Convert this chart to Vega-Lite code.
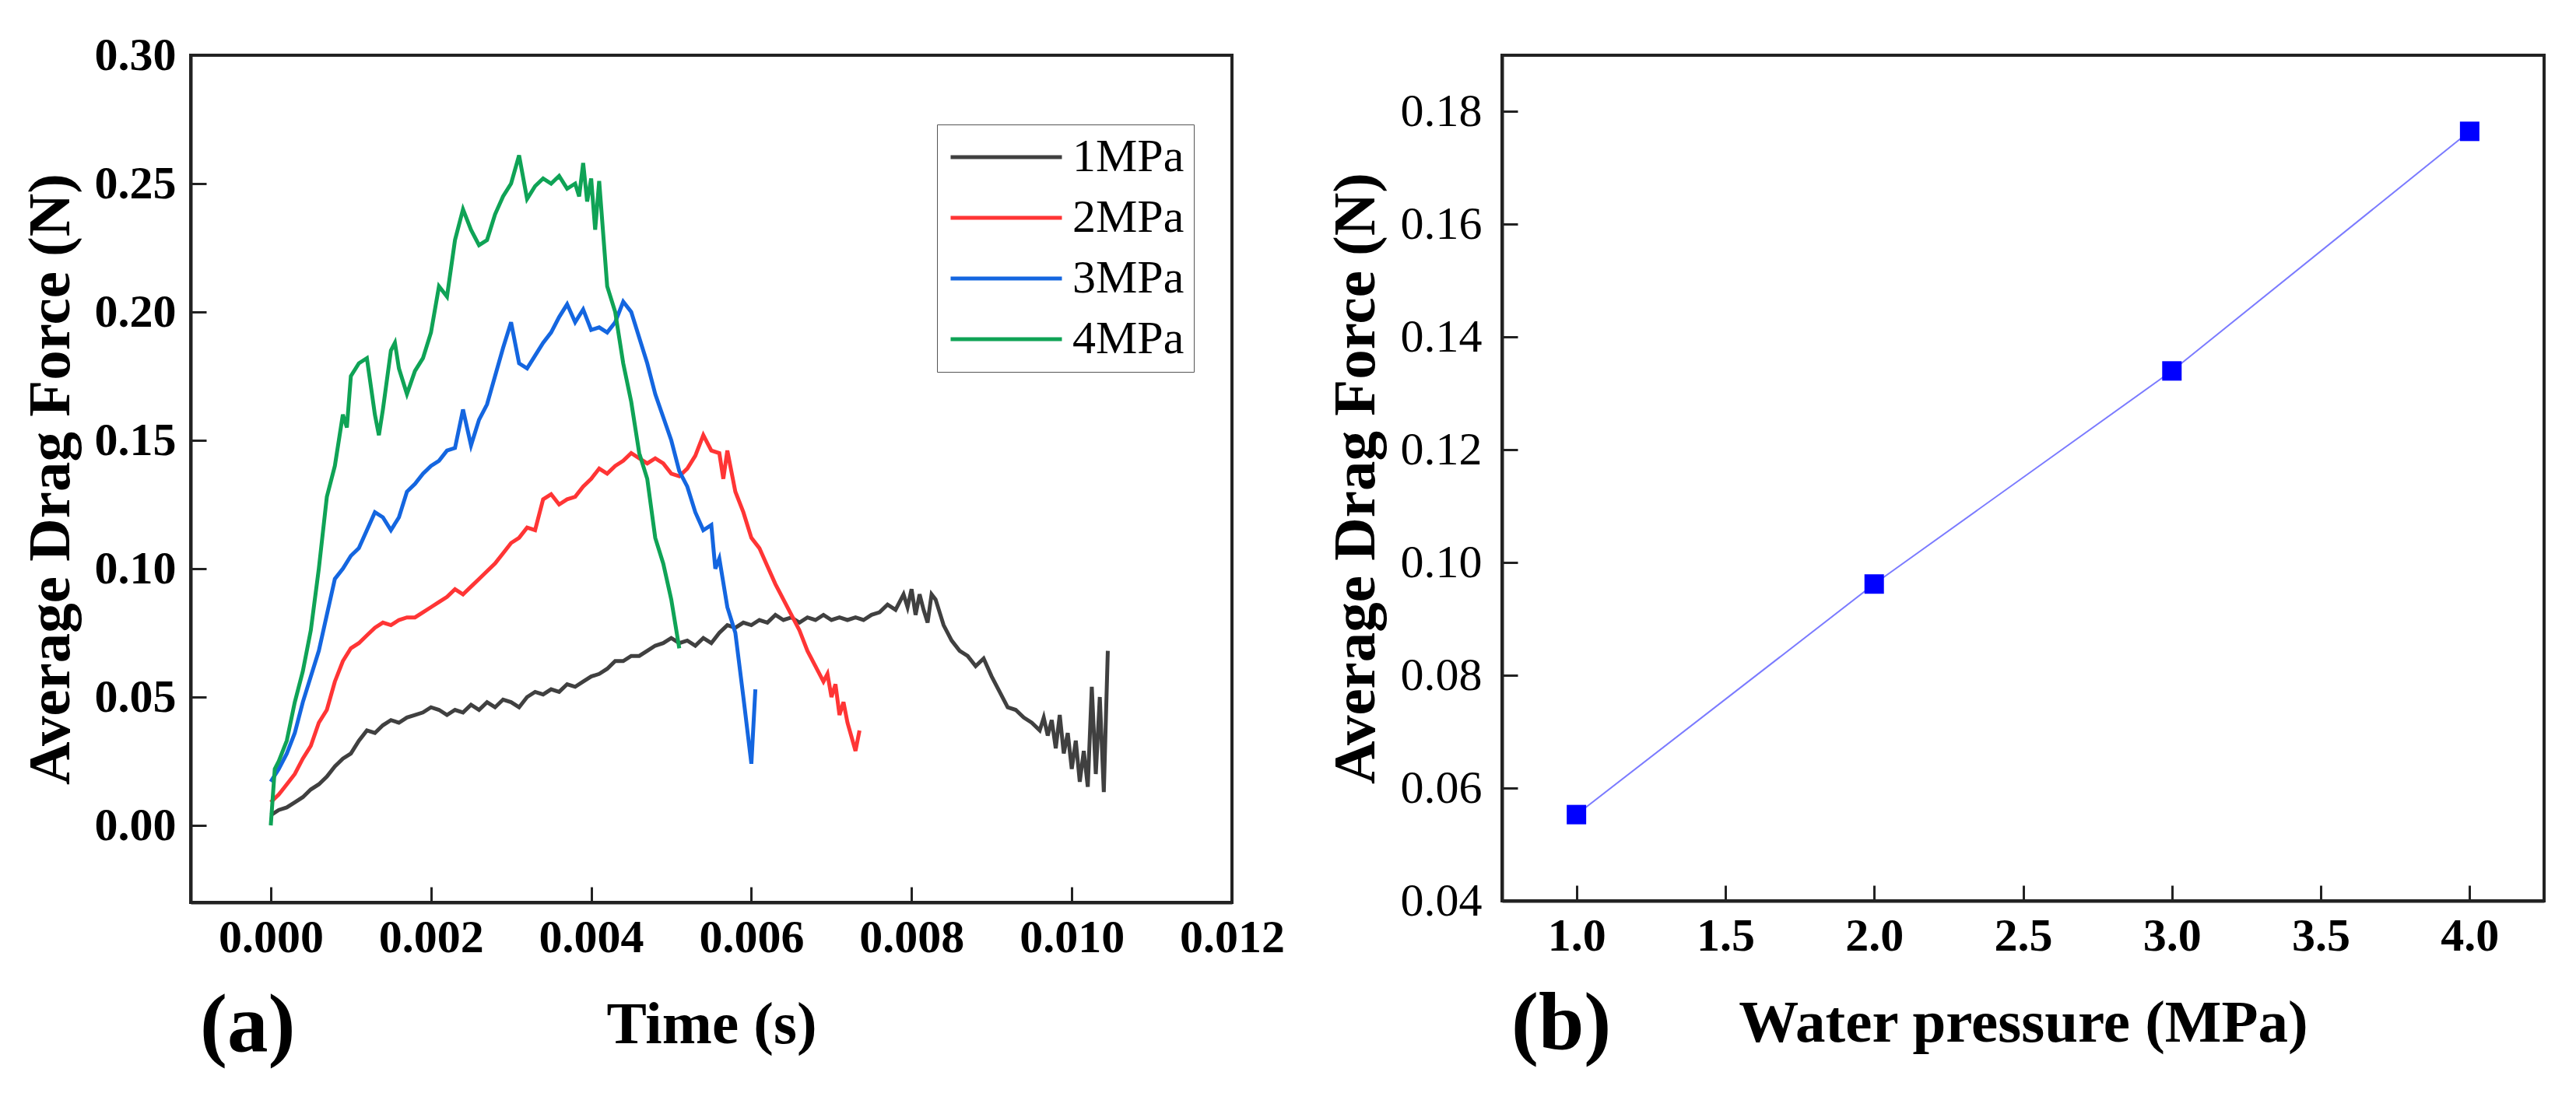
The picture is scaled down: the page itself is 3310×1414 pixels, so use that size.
{
  "$schema": "https://vega.github.io/schema/vega-lite/v6.json",
  "background": "white",
  "padding": {"left": 24, "top": 39, "right": 0, "bottom": 0},
  "spacing": 48,
  "config": {
    "font": "Liberation Serif",
    "view": {"stroke": "#222222", "strokeWidth": 4},
    "axis": {
      "grid": false,
      "domainColor": "#222222",
      "domainWidth": 4,
      "tickColor": "#222222",
      "tickWidth": 3,
      "tickSize": -20,
      "labelFont": "Liberation Serif",
      "labelFontSize": 60,
      "labelColor": "#000000",
      "labelFlush": false,
      "labelOverlap": false,
      "labelBound": false,
      "titleFont": "Liberation Serif",
      "titleFontSize": 77,
      "titleFontWeight": "bold",
      "titleColor": "#000000"
    }
  },
  "hconcat": [
    {
      "width": 1338,
      "height": 1089,
      "title": {
        "text": "(a)",
        "orient": "bottom",
        "anchor": "start",
        "frame": "group",
        "font": "Liberation Serif",
        "fontSize": 105,
        "fontWeight": "bold",
        "color": "#000000",
        "offset": -87,
        "dx": 12
      },
      "data": {
        "values": [
          {"t": 0.0, "f": 0.004, "p": "1MPa"},
          {"t": 0.0001, "f": 0.006, "p": "1MPa"},
          {"t": 0.0002, "f": 0.007, "p": "1MPa"},
          {"t": 0.0003, "f": 0.009, "p": "1MPa"},
          {"t": 0.0004, "f": 0.011, "p": "1MPa"},
          {"t": 0.0005, "f": 0.014, "p": "1MPa"},
          {"t": 0.0006, "f": 0.016, "p": "1MPa"},
          {"t": 0.0007, "f": 0.019, "p": "1MPa"},
          {"t": 0.0008, "f": 0.023, "p": "1MPa"},
          {"t": 0.0009, "f": 0.026, "p": "1MPa"},
          {"t": 0.001, "f": 0.028, "p": "1MPa"},
          {"t": 0.0011, "f": 0.033, "p": "1MPa"},
          {"t": 0.0012, "f": 0.037, "p": "1MPa"},
          {"t": 0.0013, "f": 0.036, "p": "1MPa"},
          {"t": 0.0014, "f": 0.039, "p": "1MPa"},
          {"t": 0.0015, "f": 0.041, "p": "1MPa"},
          {"t": 0.0016, "f": 0.04, "p": "1MPa"},
          {"t": 0.0017, "f": 0.042, "p": "1MPa"},
          {"t": 0.0018, "f": 0.043, "p": "1MPa"},
          {"t": 0.0019, "f": 0.044, "p": "1MPa"},
          {"t": 0.002, "f": 0.046, "p": "1MPa"},
          {"t": 0.0021, "f": 0.045, "p": "1MPa"},
          {"t": 0.0022, "f": 0.043, "p": "1MPa"},
          {"t": 0.0023, "f": 0.045, "p": "1MPa"},
          {"t": 0.0024, "f": 0.044, "p": "1MPa"},
          {"t": 0.0025, "f": 0.047, "p": "1MPa"},
          {"t": 0.0026, "f": 0.045, "p": "1MPa"},
          {"t": 0.0027, "f": 0.048, "p": "1MPa"},
          {"t": 0.0028, "f": 0.046, "p": "1MPa"},
          {"t": 0.0029, "f": 0.049, "p": "1MPa"},
          {"t": 0.003, "f": 0.048, "p": "1MPa"},
          {"t": 0.0031, "f": 0.046, "p": "1MPa"},
          {"t": 0.0032, "f": 0.05, "p": "1MPa"},
          {"t": 0.0033, "f": 0.052, "p": "1MPa"},
          {"t": 0.0034, "f": 0.051, "p": "1MPa"},
          {"t": 0.0035, "f": 0.053, "p": "1MPa"},
          {"t": 0.0036, "f": 0.052, "p": "1MPa"},
          {"t": 0.0037, "f": 0.055, "p": "1MPa"},
          {"t": 0.0038, "f": 0.054, "p": "1MPa"},
          {"t": 0.0039, "f": 0.056, "p": "1MPa"},
          {"t": 0.004, "f": 0.058, "p": "1MPa"},
          {"t": 0.0041, "f": 0.059, "p": "1MPa"},
          {"t": 0.0042, "f": 0.061, "p": "1MPa"},
          {"t": 0.0043, "f": 0.064, "p": "1MPa"},
          {"t": 0.0044, "f": 0.064, "p": "1MPa"},
          {"t": 0.0045, "f": 0.066, "p": "1MPa"},
          {"t": 0.0046, "f": 0.066, "p": "1MPa"},
          {"t": 0.0047, "f": 0.068, "p": "1MPa"},
          {"t": 0.0048, "f": 0.07, "p": "1MPa"},
          {"t": 0.0049, "f": 0.071, "p": "1MPa"},
          {"t": 0.005, "f": 0.073, "p": "1MPa"},
          {"t": 0.0051, "f": 0.071, "p": "1MPa"},
          {"t": 0.0052, "f": 0.072, "p": "1MPa"},
          {"t": 0.0053, "f": 0.07, "p": "1MPa"},
          {"t": 0.0054, "f": 0.073, "p": "1MPa"},
          {"t": 0.0055, "f": 0.071, "p": "1MPa"},
          {"t": 0.0056, "f": 0.075, "p": "1MPa"},
          {"t": 0.0057, "f": 0.078, "p": "1MPa"},
          {"t": 0.0058, "f": 0.077, "p": "1MPa"},
          {"t": 0.0059, "f": 0.079, "p": "1MPa"},
          {"t": 0.006, "f": 0.078, "p": "1MPa"},
          {"t": 0.0061, "f": 0.08, "p": "1MPa"},
          {"t": 0.0062, "f": 0.079, "p": "1MPa"},
          {"t": 0.0063, "f": 0.082, "p": "1MPa"},
          {"t": 0.0064, "f": 0.08, "p": "1MPa"},
          {"t": 0.0065, "f": 0.081, "p": "1MPa"},
          {"t": 0.0066, "f": 0.079, "p": "1MPa"},
          {"t": 0.0067, "f": 0.081, "p": "1MPa"},
          {"t": 0.0068, "f": 0.08, "p": "1MPa"},
          {"t": 0.0069, "f": 0.082, "p": "1MPa"},
          {"t": 0.007, "f": 0.08, "p": "1MPa"},
          {"t": 0.0071, "f": 0.081, "p": "1MPa"},
          {"t": 0.0072, "f": 0.08, "p": "1MPa"},
          {"t": 0.0073, "f": 0.081, "p": "1MPa"},
          {"t": 0.0074, "f": 0.08, "p": "1MPa"},
          {"t": 0.0075, "f": 0.082, "p": "1MPa"},
          {"t": 0.0076, "f": 0.083, "p": "1MPa"},
          {"t": 0.0077, "f": 0.086, "p": "1MPa"},
          {"t": 0.0078, "f": 0.084, "p": "1MPa"},
          {"t": 0.0079, "f": 0.09, "p": "1MPa"},
          {"t": 0.00795, "f": 0.085, "p": "1MPa"},
          {"t": 0.008, "f": 0.092, "p": "1MPa"},
          {"t": 0.00805, "f": 0.082, "p": "1MPa"},
          {"t": 0.0081, "f": 0.09, "p": "1MPa"},
          {"t": 0.00815, "f": 0.084, "p": "1MPa"},
          {"t": 0.0082, "f": 0.079, "p": "1MPa"},
          {"t": 0.00825, "f": 0.09, "p": "1MPa"},
          {"t": 0.0083, "f": 0.088, "p": "1MPa"},
          {"t": 0.0084, "f": 0.078, "p": "1MPa"},
          {"t": 0.0085, "f": 0.072, "p": "1MPa"},
          {"t": 0.0086, "f": 0.068, "p": "1MPa"},
          {"t": 0.0087, "f": 0.066, "p": "1MPa"},
          {"t": 0.0088, "f": 0.062, "p": "1MPa"},
          {"t": 0.0089, "f": 0.065, "p": "1MPa"},
          {"t": 0.009, "f": 0.058, "p": "1MPa"},
          {"t": 0.0091, "f": 0.052, "p": "1MPa"},
          {"t": 0.0092, "f": 0.046, "p": "1MPa"},
          {"t": 0.0093, "f": 0.045, "p": "1MPa"},
          {"t": 0.0094, "f": 0.042, "p": "1MPa"},
          {"t": 0.0095, "f": 0.04, "p": "1MPa"},
          {"t": 0.0096, "f": 0.037, "p": "1MPa"},
          {"t": 0.00965, "f": 0.042, "p": "1MPa"},
          {"t": 0.0097, "f": 0.035, "p": "1MPa"},
          {"t": 0.00975, "f": 0.041, "p": "1MPa"},
          {"t": 0.0098, "f": 0.03, "p": "1MPa"},
          {"t": 0.00985, "f": 0.043, "p": "1MPa"},
          {"t": 0.0099, "f": 0.028, "p": "1MPa"},
          {"t": 0.00995, "f": 0.036, "p": "1MPa"},
          {"t": 0.01, "f": 0.022, "p": "1MPa"},
          {"t": 0.01005, "f": 0.033, "p": "1MPa"},
          {"t": 0.0101, "f": 0.017, "p": "1MPa"},
          {"t": 0.01015, "f": 0.029, "p": "1MPa"},
          {"t": 0.0102, "f": 0.015, "p": "1MPa"},
          {"t": 0.01025, "f": 0.054, "p": "1MPa"},
          {"t": 0.0103, "f": 0.02, "p": "1MPa"},
          {"t": 0.01035, "f": 0.05, "p": "1MPa"},
          {"t": 0.0104, "f": 0.013, "p": "1MPa"},
          {"t": 0.01045, "f": 0.068, "p": "1MPa"},

          {"t": 0.0, "f": 0.009, "p": "2MPa"},
          {"t": 0.0001, "f": 0.012, "p": "2MPa"},
          {"t": 0.0002, "f": 0.016, "p": "2MPa"},
          {"t": 0.0003, "f": 0.02, "p": "2MPa"},
          {"t": 0.0004, "f": 0.026, "p": "2MPa"},
          {"t": 0.0005, "f": 0.031, "p": "2MPa"},
          {"t": 0.0006, "f": 0.04, "p": "2MPa"},
          {"t": 0.0007, "f": 0.045, "p": "2MPa"},
          {"t": 0.0008, "f": 0.056, "p": "2MPa"},
          {"t": 0.0009, "f": 0.064, "p": "2MPa"},
          {"t": 0.001, "f": 0.069, "p": "2MPa"},
          {"t": 0.0011, "f": 0.071, "p": "2MPa"},
          {"t": 0.0012, "f": 0.074, "p": "2MPa"},
          {"t": 0.0013, "f": 0.077, "p": "2MPa"},
          {"t": 0.0014, "f": 0.079, "p": "2MPa"},
          {"t": 0.0015, "f": 0.078, "p": "2MPa"},
          {"t": 0.0016, "f": 0.08, "p": "2MPa"},
          {"t": 0.0017, "f": 0.081, "p": "2MPa"},
          {"t": 0.0018, "f": 0.081, "p": "2MPa"},
          {"t": 0.0019, "f": 0.083, "p": "2MPa"},
          {"t": 0.002, "f": 0.085, "p": "2MPa"},
          {"t": 0.0021, "f": 0.087, "p": "2MPa"},
          {"t": 0.0022, "f": 0.089, "p": "2MPa"},
          {"t": 0.0023, "f": 0.092, "p": "2MPa"},
          {"t": 0.0024, "f": 0.09, "p": "2MPa"},
          {"t": 0.0025, "f": 0.093, "p": "2MPa"},
          {"t": 0.0026, "f": 0.096, "p": "2MPa"},
          {"t": 0.0027, "f": 0.099, "p": "2MPa"},
          {"t": 0.0028, "f": 0.102, "p": "2MPa"},
          {"t": 0.0029, "f": 0.106, "p": "2MPa"},
          {"t": 0.003, "f": 0.11, "p": "2MPa"},
          {"t": 0.0031, "f": 0.112, "p": "2MPa"},
          {"t": 0.0032, "f": 0.116, "p": "2MPa"},
          {"t": 0.0033, "f": 0.115, "p": "2MPa"},
          {"t": 0.0034, "f": 0.127, "p": "2MPa"},
          {"t": 0.0035, "f": 0.129, "p": "2MPa"},
          {"t": 0.0036, "f": 0.125, "p": "2MPa"},
          {"t": 0.0037, "f": 0.127, "p": "2MPa"},
          {"t": 0.0038, "f": 0.128, "p": "2MPa"},
          {"t": 0.0039, "f": 0.132, "p": "2MPa"},
          {"t": 0.004, "f": 0.135, "p": "2MPa"},
          {"t": 0.0041, "f": 0.139, "p": "2MPa"},
          {"t": 0.0042, "f": 0.137, "p": "2MPa"},
          {"t": 0.0043, "f": 0.14, "p": "2MPa"},
          {"t": 0.0044, "f": 0.142, "p": "2MPa"},
          {"t": 0.0045, "f": 0.145, "p": "2MPa"},
          {"t": 0.0046, "f": 0.143, "p": "2MPa"},
          {"t": 0.0047, "f": 0.141, "p": "2MPa"},
          {"t": 0.0048, "f": 0.143, "p": "2MPa"},
          {"t": 0.0049, "f": 0.141, "p": "2MPa"},
          {"t": 0.005, "f": 0.137, "p": "2MPa"},
          {"t": 0.0051, "f": 0.136, "p": "2MPa"},
          {"t": 0.0052, "f": 0.139, "p": "2MPa"},
          {"t": 0.0053, "f": 0.144, "p": "2MPa"},
          {"t": 0.0054, "f": 0.152, "p": "2MPa"},
          {"t": 0.0055, "f": 0.146, "p": "2MPa"},
          {"t": 0.0056, "f": 0.145, "p": "2MPa"},
          {"t": 0.00565, "f": 0.135, "p": "2MPa"},
          {"t": 0.0057, "f": 0.146, "p": "2MPa"},
          {"t": 0.0058, "f": 0.13, "p": "2MPa"},
          {"t": 0.0059, "f": 0.122, "p": "2MPa"},
          {"t": 0.006, "f": 0.112, "p": "2MPa"},
          {"t": 0.0061, "f": 0.108, "p": "2MPa"},
          {"t": 0.0062, "f": 0.101, "p": "2MPa"},
          {"t": 0.0063, "f": 0.094, "p": "2MPa"},
          {"t": 0.0064, "f": 0.088, "p": "2MPa"},
          {"t": 0.0065, "f": 0.082, "p": "2MPa"},
          {"t": 0.0066, "f": 0.076, "p": "2MPa"},
          {"t": 0.0067, "f": 0.068, "p": "2MPa"},
          {"t": 0.0068, "f": 0.062, "p": "2MPa"},
          {"t": 0.0069, "f": 0.056, "p": "2MPa"},
          {"t": 0.00695, "f": 0.059, "p": "2MPa"},
          {"t": 0.007, "f": 0.05, "p": "2MPa"},
          {"t": 0.00705, "f": 0.055, "p": "2MPa"},
          {"t": 0.0071, "f": 0.043, "p": "2MPa"},
          {"t": 0.00715, "f": 0.048, "p": "2MPa"},
          {"t": 0.0072, "f": 0.04, "p": "2MPa"},
          {"t": 0.0073, "f": 0.029, "p": "2MPa"},
          {"t": 0.00735, "f": 0.037, "p": "2MPa"},

          {"t": 0.0, "f": 0.017, "p": "3MPa"},
          {"t": 0.0001, "f": 0.022, "p": "3MPa"},
          {"t": 0.0002, "f": 0.028, "p": "3MPa"},
          {"t": 0.0003, "f": 0.036, "p": "3MPa"},
          {"t": 0.0004, "f": 0.048, "p": "3MPa"},
          {"t": 0.0005, "f": 0.058, "p": "3MPa"},
          {"t": 0.0006, "f": 0.068, "p": "3MPa"},
          {"t": 0.0007, "f": 0.082, "p": "3MPa"},
          {"t": 0.0008, "f": 0.096, "p": "3MPa"},
          {"t": 0.0009, "f": 0.1, "p": "3MPa"},
          {"t": 0.001, "f": 0.105, "p": "3MPa"},
          {"t": 0.0011, "f": 0.108, "p": "3MPa"},
          {"t": 0.0012, "f": 0.115, "p": "3MPa"},
          {"t": 0.0013, "f": 0.122, "p": "3MPa"},
          {"t": 0.0014, "f": 0.12, "p": "3MPa"},
          {"t": 0.0015, "f": 0.115, "p": "3MPa"},
          {"t": 0.0016, "f": 0.12, "p": "3MPa"},
          {"t": 0.0017, "f": 0.13, "p": "3MPa"},
          {"t": 0.0018, "f": 0.133, "p": "3MPa"},
          {"t": 0.0019, "f": 0.137, "p": "3MPa"},
          {"t": 0.002, "f": 0.14, "p": "3MPa"},
          {"t": 0.0021, "f": 0.142, "p": "3MPa"},
          {"t": 0.0022, "f": 0.146, "p": "3MPa"},
          {"t": 0.0023, "f": 0.147, "p": "3MPa"},
          {"t": 0.0024, "f": 0.162, "p": "3MPa"},
          {"t": 0.0025, "f": 0.148, "p": "3MPa"},
          {"t": 0.0026, "f": 0.158, "p": "3MPa"},
          {"t": 0.0027, "f": 0.164, "p": "3MPa"},
          {"t": 0.0028, "f": 0.175, "p": "3MPa"},
          {"t": 0.0029, "f": 0.186, "p": "3MPa"},
          {"t": 0.003, "f": 0.196, "p": "3MPa"},
          {"t": 0.0031, "f": 0.18, "p": "3MPa"},
          {"t": 0.0032, "f": 0.178, "p": "3MPa"},
          {"t": 0.0033, "f": 0.183, "p": "3MPa"},
          {"t": 0.0034, "f": 0.188, "p": "3MPa"},
          {"t": 0.0035, "f": 0.192, "p": "3MPa"},
          {"t": 0.0036, "f": 0.198, "p": "3MPa"},
          {"t": 0.0037, "f": 0.203, "p": "3MPa"},
          {"t": 0.0038, "f": 0.196, "p": "3MPa"},
          {"t": 0.0039, "f": 0.201, "p": "3MPa"},
          {"t": 0.004, "f": 0.193, "p": "3MPa"},
          {"t": 0.0041, "f": 0.194, "p": "3MPa"},
          {"t": 0.0042, "f": 0.192, "p": "3MPa"},
          {"t": 0.0043, "f": 0.196, "p": "3MPa"},
          {"t": 0.0044, "f": 0.204, "p": "3MPa"},
          {"t": 0.0045, "f": 0.2, "p": "3MPa"},
          {"t": 0.0046, "f": 0.19, "p": "3MPa"},
          {"t": 0.0047, "f": 0.18, "p": "3MPa"},
          {"t": 0.0048, "f": 0.168, "p": "3MPa"},
          {"t": 0.0049, "f": 0.159, "p": "3MPa"},
          {"t": 0.005, "f": 0.15, "p": "3MPa"},
          {"t": 0.0051, "f": 0.138, "p": "3MPa"},
          {"t": 0.0052, "f": 0.132, "p": "3MPa"},
          {"t": 0.0053, "f": 0.122, "p": "3MPa"},
          {"t": 0.0054, "f": 0.115, "p": "3MPa"},
          {"t": 0.0055, "f": 0.117, "p": "3MPa"},
          {"t": 0.00555, "f": 0.1, "p": "3MPa"},
          {"t": 0.0056, "f": 0.104, "p": "3MPa"},
          {"t": 0.0057, "f": 0.085, "p": "3MPa"},
          {"t": 0.0058, "f": 0.075, "p": "3MPa"},
          {"t": 0.0059, "f": 0.05, "p": "3MPa"},
          {"t": 0.006, "f": 0.024, "p": "3MPa"},
          {"t": 0.00605, "f": 0.053, "p": "3MPa"},

          {"t": 0.0, "f": 0.0, "p": "4MPa"},
          {"t": 0.00005, "f": 0.022, "p": "4MPa"},
          {"t": 0.0001, "f": 0.025, "p": "4MPa"},
          {"t": 0.0002, "f": 0.033, "p": "4MPa"},
          {"t": 0.0003, "f": 0.048, "p": "4MPa"},
          {"t": 0.0004, "f": 0.06, "p": "4MPa"},
          {"t": 0.0005, "f": 0.076, "p": "4MPa"},
          {"t": 0.0006, "f": 0.1, "p": "4MPa"},
          {"t": 0.0007, "f": 0.128, "p": "4MPa"},
          {"t": 0.0008, "f": 0.14, "p": "4MPa"},
          {"t": 0.0009, "f": 0.16, "p": "4MPa"},
          {"t": 0.00095, "f": 0.155, "p": "4MPa"},
          {"t": 0.001, "f": 0.175, "p": "4MPa"},
          {"t": 0.0011, "f": 0.18, "p": "4MPa"},
          {"t": 0.0012, "f": 0.182, "p": "4MPa"},
          {"t": 0.0013, "f": 0.16, "p": "4MPa"},
          {"t": 0.00135, "f": 0.152, "p": "4MPa"},
          {"t": 0.0014, "f": 0.162, "p": "4MPa"},
          {"t": 0.0015, "f": 0.185, "p": "4MPa"},
          {"t": 0.00155, "f": 0.188, "p": "4MPa"},
          {"t": 0.0016, "f": 0.178, "p": "4MPa"},
          {"t": 0.0017, "f": 0.168, "p": "4MPa"},
          {"t": 0.0018, "f": 0.177, "p": "4MPa"},
          {"t": 0.0019, "f": 0.182, "p": "4MPa"},
          {"t": 0.002, "f": 0.192, "p": "4MPa"},
          {"t": 0.0021, "f": 0.21, "p": "4MPa"},
          {"t": 0.0022, "f": 0.206, "p": "4MPa"},
          {"t": 0.0023, "f": 0.228, "p": "4MPa"},
          {"t": 0.0024, "f": 0.24, "p": "4MPa"},
          {"t": 0.0025, "f": 0.232, "p": "4MPa"},
          {"t": 0.0026, "f": 0.226, "p": "4MPa"},
          {"t": 0.0027, "f": 0.228, "p": "4MPa"},
          {"t": 0.0028, "f": 0.238, "p": "4MPa"},
          {"t": 0.0029, "f": 0.245, "p": "4MPa"},
          {"t": 0.003, "f": 0.25, "p": "4MPa"},
          {"t": 0.0031, "f": 0.261, "p": "4MPa"},
          {"t": 0.0032, "f": 0.244, "p": "4MPa"},
          {"t": 0.0033, "f": 0.249, "p": "4MPa"},
          {"t": 0.0034, "f": 0.252, "p": "4MPa"},
          {"t": 0.0035, "f": 0.25, "p": "4MPa"},
          {"t": 0.0036, "f": 0.253, "p": "4MPa"},
          {"t": 0.0037, "f": 0.248, "p": "4MPa"},
          {"t": 0.0038, "f": 0.25, "p": "4MPa"},
          {"t": 0.00385, "f": 0.245, "p": "4MPa"},
          {"t": 0.0039, "f": 0.258, "p": "4MPa"},
          {"t": 0.00395, "f": 0.243, "p": "4MPa"},
          {"t": 0.004, "f": 0.252, "p": "4MPa"},
          {"t": 0.00405, "f": 0.232, "p": "4MPa"},
          {"t": 0.0041, "f": 0.251, "p": "4MPa"},
          {"t": 0.0042, "f": 0.21, "p": "4MPa"},
          {"t": 0.0043, "f": 0.2, "p": "4MPa"},
          {"t": 0.0044, "f": 0.18, "p": "4MPa"},
          {"t": 0.0045, "f": 0.165, "p": "4MPa"},
          {"t": 0.0046, "f": 0.145, "p": "4MPa"},
          {"t": 0.0047, "f": 0.135, "p": "4MPa"},
          {"t": 0.0048, "f": 0.112, "p": "4MPa"},
          {"t": 0.0049, "f": 0.102, "p": "4MPa"},
          {"t": 0.005, "f": 0.088, "p": "4MPa"},
          {"t": 0.0051, "f": 0.069, "p": "4MPa"}
        ]
      },
      "mark": {"type": "line", "strokeWidth": 5, "clip": true},
      "encoding": {
        "x": {
          "field": "t",
          "type": "quantitative",
          "scale": {"domain": [-0.001, 0.012], "nice": false, "zero": false},
          "axis": {
            "title": "Time (s)",
            "values": [0, 0.002, 0.004, 0.006, 0.008, 0.01, 0.012],
            "format": ".3f",
            "labelFontWeight": "bold",
            "labelPadding": 36,
            "titlePadding": 44
          }
        },
        "y": {
          "field": "f",
          "type": "quantitative",
          "scale": {"domain": [-0.03, 0.3], "nice": false, "zero": false},
          "axis": {
            "title": "Average Drag Force (N)",
            "values": [0, 0.05, 0.1, 0.15, 0.2, 0.25, 0.3],
            "format": ".2f",
            "labelFontWeight": "bold",
            "labelPadding": 39,
            "titlePadding": 17
          }
        },
        "color": {
          "field": "p",
          "type": "nominal",
          "scale": {
            "domain": ["1MPa", "2MPa", "3MPa", "4MPa"],
            "range": ["#404040", "#ff3535", "#1466e0", "#0fa356"]
          },
          "legend": {
            "title": null,
            "orient": "none",
            "legendX": 959,
            "legendY": 89,
            "padding": 12,
            "rowPadding": 18,
            "strokeColor": "#555555",
            "symbolType": "M-3,0H3",
            "symbolSize": 2272,
            "symbolStrokeWidth": 5,
            "symbolOffset": 47,
            "labelOffset": 55,
            "labelFont": "Liberation Serif",
            "labelFontSize": 60,
            "labelColor": "#000000"
          }
        }
      }
    },
    {
      "width": 1339,
      "height": 1087,
      "title": {
        "text": "(b)",
        "orient": "bottom",
        "anchor": "start",
        "frame": "group",
        "font": "Liberation Serif",
        "fontSize": 105,
        "fontWeight": "bold",
        "color": "#000000",
        "offset": -87,
        "dx": 12
      },
      "data": {
        "values": [
          {"pressure": 1.0, "force": 0.0553},
          {"pressure": 2.0, "force": 0.0962},
          {"pressure": 3.0, "force": 0.134},
          {"pressure": 4.0, "force": 0.1765}
        ]
      },
      "encoding": {
        "x": {
          "field": "pressure",
          "type": "quantitative",
          "scale": {"domain": [0.75, 4.25], "nice": false, "zero": false},
          "axis": {
            "title": "Water pressure (MPa)",
            "values": [1, 1.5, 2, 2.5, 3, 3.5, 4],
            "format": ".1f",
            "labelFontWeight": "bold",
            "labelPadding": 36,
            "titlePadding": 44
          }
        },
        "y": {
          "field": "force",
          "type": "quantitative",
          "scale": {"domain": [0.04, 0.19], "nice": false, "zero": false},
          "axis": {
            "title": "Average Drag Force (N)",
            "values": [0.04, 0.06, 0.08, 0.1, 0.12, 0.14, 0.16, 0.18],
            "format": ".2f",
            "labelFontWeight": "normal",
            "labelPadding": 46,
            "titlePadding": 18
          }
        }
      },
      "layer": [
        {"mark": {"type": "line", "color": "#7b7bff", "strokeWidth": 2}},
        {"mark": {"type": "point", "shape": "square", "filled": true, "color": "#0000ff", "opacity": 1, "size": 625}}
      ]
    }
  ]
}
